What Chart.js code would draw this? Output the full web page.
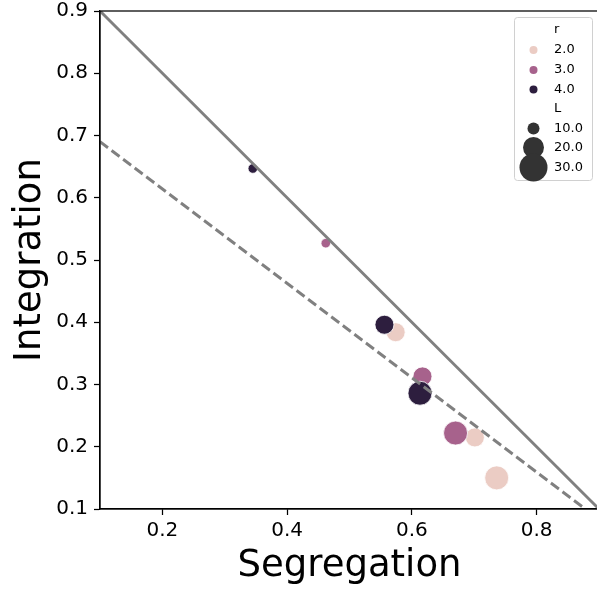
<!DOCTYPE html>
<html>
<head>
<meta charset="utf-8">
<script src="https://cdn.jsdelivr.net/npm/chart.js@4"></script>
<style>
  html, body { margin: 0; padding: 0; background: #fff; overflow: hidden; }
  #wrap { position: absolute; left: 0; top: 0; width: 600px; height: 593px; }
</style>
</head>
<body>
<div id="wrap"><canvas id="chart"></canvas></div>
<script>
// Data
const segregation = [0.345, 0.462, 0.556, 0.574, 0.617, 0.613, 0.670, 0.701, 0.736];
const integration = [0.647, 0.527, 0.396, 0.384, 0.313, 0.286, 0.222, 0.215, 0.150];
const rValues = [4, 3, 4, 2, 3, 4, 3, 2, 2];
const lValues = [10, 10, 20, 20, 20, 30, 30, 20, 30];

const rLevels = [2, 3, 4];
const lLevels = [10, 20, 30];
const rColors = { 2: '#ebccc4', 3: '#a7628c', 4: '#2d1e3e' };
const lRadius = { 10: 4.8, 20: 9.5, 30: 12 };
const lLegendRadius = { 10: 6, 20: 10.5, 30: 14 };

const xTicks = [0.2, 0.4, 0.6, 0.8];
const yTicks = [0.1, 0.2, 0.3, 0.4, 0.5, 0.6, 0.7, 0.8, 0.9];

// reference lines
const solidLine = [{ x: 0.1, y: 0.9 }, { x: 0.9, y: 0.1 }];
const dashedLine = [{ x: 0.1, y: 0.69 }, { x: 0.878, y: 0.1 }];

// Build scatter datasets, one per r level
const pointSets = rLevels.map((r, i) => {
  const idx = rValues.map((v, k) => v === r ? k : -1).filter(k => k >= 0);
  return {
    type: 'scatter',
    data: idx.map(k => ({ x: segregation[k], y: integration[k] })),
    pointRadius: idx.map(k => lRadius[lValues[k]]),
    pointHoverRadius: idx.map(k => lRadius[lValues[k]]),
    backgroundColor: rColors[r],
    borderColor: '#ffffff',
    borderWidth: 0.8,
    order: rLevels.length - i
  };
});

const lineSets = [
  { data: solidLine, borderDash: [] },
  { data: dashedLine, borderDash: [10, 4.5] }
].map(l => ({
  type: 'line',
  data: l.data,
  borderColor: '#808080',
  borderWidth: 2.9,
  borderDash: l.borderDash,
  pointRadius: 0,
  fill: false,
  order: 0
}));

// Frame + legend
const framePlugin = {
  id: 'frame',
  afterDraw(chart) {
    const { ctx, chartArea: a } = chart;
    ctx.save();
    ctx.strokeStyle = '#000';
    ctx.lineWidth = 1.25;
    ctx.strokeRect(a.left, a.top, a.right - a.left, a.bottom - a.top);

    // legend box
    const bx = 514, by = 17, bw = 78, bh = 163;
    ctx.fillStyle = 'rgba(255,255,255,0.8)';
    ctx.strokeStyle = '#d0d0d0';
    ctx.lineWidth = 1;
    ctx.beginPath();
    ctx.roundRect(bx + 0.5, by + 0.5, bw, bh, 3);
    ctx.fill();
    ctx.stroke();

    ctx.font = '13px "DejaVu Sans"';
    ctx.textBaseline = 'middle';
    ctx.textAlign = 'left';
    ctx.fillStyle = '#000';
    const mx = 533.5, tx = 554;
    ctx.fillText('r', tx, 29.5);
    const ry = [50, 70, 89.5];
    rLevels.forEach((r, i) => {
      ctx.fillStyle = rColors[r];
      ctx.beginPath();
      ctx.arc(mx, ry[i], 4, 0, Math.PI * 2);
      ctx.fill();
      ctx.fillStyle = '#000';
      ctx.fillText(r.toFixed(1), tx, ry[i]);
    });
    ctx.fillText('L', tx, 108.5);
    const ly = [128.5, 147.5, 167.5];
    lLevels.forEach((l, i) => {
      ctx.fillStyle = '#333333';
      ctx.beginPath();
      ctx.arc(mx, ly[i], lLegendRadius[l], 0, Math.PI * 2);
      ctx.fill();
      ctx.fillStyle = '#000';
      ctx.fillText(l.toFixed(1), tx, ly[i]);
    });
    ctx.restore();
  }
};

const tickFont = { family: '"DejaVu Sans"', size: 20 };
const titleFont = { family: '"DejaVu Sans"', size: 37 };

new Chart(document.getElementById('chart'), {
  data: { datasets: [...lineSets, ...pointSets] },
  options: {
    responsive: true,
    maintainAspectRatio: false,
    animation: false,
    layout: { autoPadding: false, padding: { top: 11, right: 1, left: 0, bottom: 0 } },
    plugins: { legend: { display: false }, tooltip: { enabled: false } },
    scales: {
      x: {
        type: 'linear',
        min: 0.1,
        max: 0.9,
        afterBuildTicks: s => { s.ticks = xTicks.map(v => ({ value: v })); },
        afterFit: s => { s.height = 84; s.paddingLeft = 0; s.paddingRight = 0; },
        grid: { drawOnChartArea: false, drawTicks: true, tickLength: 6, tickColor: '#000', tickWidth: 1.25 },
        border: { display: true, color: '#000', width: 1.25 },
        ticks: { font: tickFont, color: '#000', padding: 4, callback: v => v.toFixed(1), maxRotation: 0 },
        title: { display: true, text: 'Segregation', font: titleFont, color: '#000', padding: { top: 0, bottom: 4 } }
      },
      y: {
        type: 'linear',
        min: 0.1,
        max: 0.9,
        afterBuildTicks: s => { s.ticks = yTicks.map(v => ({ value: v })); },
        afterFit: s => { s.width = 100; s.paddingTop = 0; s.paddingBottom = 0; },
        grid: { drawOnChartArea: false, drawTicks: true, tickLength: 6, tickColor: '#000', tickWidth: 1.25 },
        border: { display: true, color: '#000', width: 1.25 },
        ticks: { font: tickFont, color: '#000', padding: 6, callback: v => v.toFixed(1) },
        title: { display: true, text: 'Integration', font: titleFont, color: '#000', padding: { top: 8, bottom: 0 } }
      }
    }
  },
  plugins: [framePlugin]
});
</script>
</body>
</html>
